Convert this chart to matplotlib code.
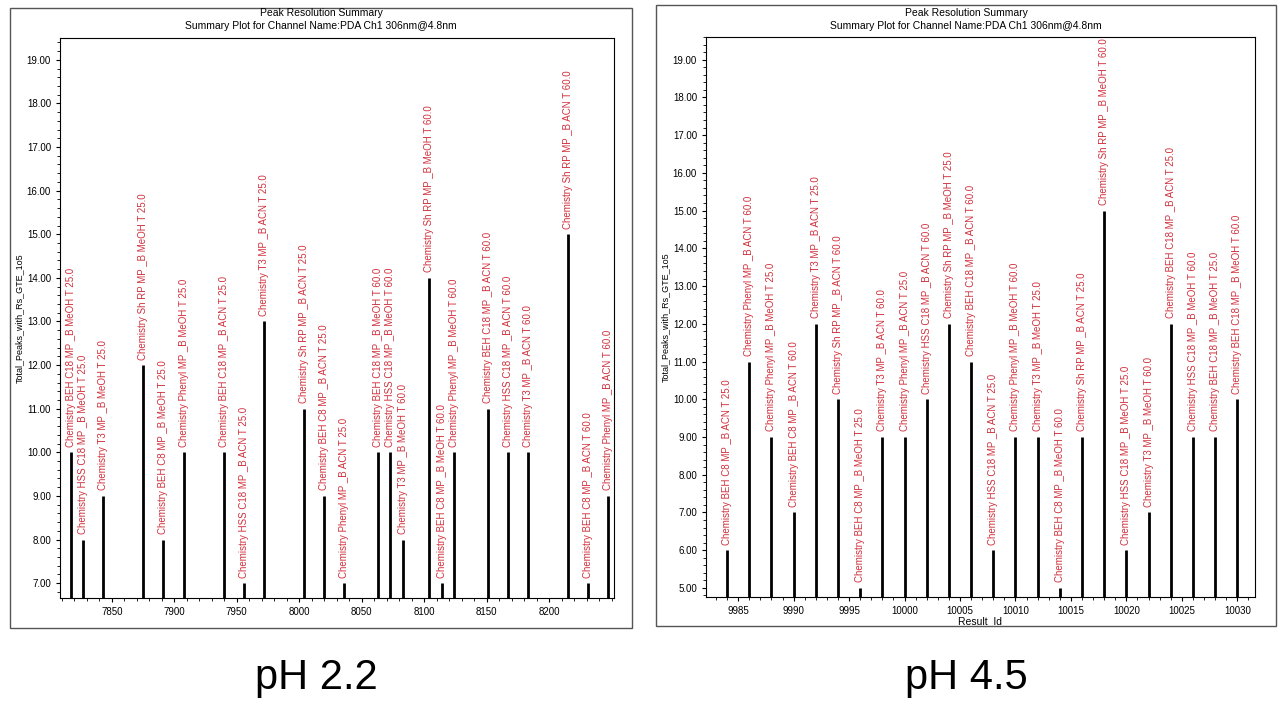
import matplotlib
matplotlib.use("Agg")
import matplotlib.pyplot as plt
from matplotlib.patches import Rectangle
from matplotlib.ticker import MultipleLocator, FormatStrFormatter, FixedLocator

plt.rcParams['font.family'] = ['Liberation Sans', 'DejaVu Sans']

left_ids = [7817, 7827, 7843, 7875, 7891, 7908, 7940, 7956, 7972, 8004, 8020, 8036,
            8063, 8073, 8083, 8104, 8114, 8124, 8151, 8167, 8183, 8215, 8231, 8247]
left_vals = [10, 8, 9, 12, 8, 10, 10, 7, 13, 11, 9, 7, 10, 10, 8, 14, 7, 10, 11, 10, 10, 15, 7, 9]
left_labels = [
    "BEH C18 MP _B MeOH T 25.0", "HSS C18 MP _B MeOH T 25.0", "T3 MP _B MeOH T 25.0",
    "Sh RP MP _B MeOH T 25.0", "BEH C8 MP _B MeOH T 25.0", "Phenyl MP _B MeOH T 25.0",
    "BEH C18 MP _B ACN T 25.0", "HSS C18 MP _B ACN T 25.0", "T3 MP _B ACN T 25.0",
    "Sh RP MP _B ACN T 25.0", "BEH C8 MP _B ACN T 25.0", "Phenyl MP _B ACN T 25.0",
    "BEH C18 MP _B MeOH T 60.0", "HSS C18 MP _B MeOH T 60.0", "T3 MP _B MeOH T 60.0",
    "Sh RP MP _B MeOH T 60.0", "BEH C8 MP _B MeOH T 60.0", "Phenyl MP _B MeOH T 60.0",
    "BEH C18 MP _B ACN T 60.0", "HSS C18 MP _B ACN T 60.0", "T3 MP _B ACN T 60.0",
    "Sh RP MP _B ACN T 60.0", "BEH C8 MP _B ACN T 60.0", "Phenyl MP _B ACN T 60.0"]
left_ticks = [7850, 7900, 7950, 8000, 8050, 8100, 8150, 8200]

right_ids = [9984, 9986, 9988, 9990, 9992, 9994, 9996, 9998, 10000, 10002, 10004, 10006,
             10008, 10010, 10012, 10014, 10016, 10018, 10020, 10022, 10024, 10026, 10028, 10030]
right_vals = [6, 11, 9, 7, 12, 10, 5, 9, 9, 10, 12, 11, 6, 9, 9, 5, 9, 15, 6, 7, 12, 9, 9, 10]
right_labels = [
    "BEH C8 MP _B ACN T 25.0", "Phenyl MP _B ACN T 60.0", "Phenyl MP _B MeOH T 25.0",
    "BEH C8 MP _B ACN T 60.0", "T3 MP _B ACN T 25.0", "Sh RP MP _B ACN T 60.0",
    "BEH C8 MP _B MeOH T 25.0", "T3 MP _B ACN T 60.0", "Phenyl MP _B ACN T 25.0",
    "HSS C18 MP _B ACN T 60.0", "Sh RP MP _B MeOH T 25.0", "BEH C18 MP _B ACN T 60.0",
    "HSS C18 MP _B ACN T 25.0", "Phenyl MP _B MeOH T 60.0", "T3 MP _B MeOH T 25.0",
    "BEH C8 MP _B MeOH T 60.0", "Sh RP MP _B ACN T 25.0", "Sh RP MP _B MeOH T 60.0",
    "HSS C18 MP _B MeOH T 25.0", "T3 MP _B MeOH T 60.0", "BEH C18 MP _B ACN T 25.0",
    "HSS C18 MP _B MeOH T 60.0", "BEH C18 MP _B MeOH T 25.0", "BEH C18 MP _B MeOH T 60.0"]
right_ticks = [9985, 9990, 9995, 10000, 10005, 10010, 10015, 10020, 10025, 10030]

W, H = 1280, 707
fig = plt.figure(figsize=(12.8, 7.07), dpi=100)

def fr(x0, y0, x1, y1):
    return [x0 / W, 1 - y1 / H, (x1 - x0) / W, (y1 - y0) / H]

for (x0, y0, x1, y1) in [(10, 8, 632, 628), (656, 5, 1276, 626)]:
    fig.patches.append(Rectangle((x0 / W, 1 - y1 / H), (x1 - x0) / W, (y1 - y0) / H,
                                 transform=fig.transFigure, fill=False, ec='#555555', lw=1))

red = '#d0303c'

def panel(rect, ids, vals, labels, xlim, ylim, ticks, xmin, title_x, xlabel):
    ax = fig.add_axes(fr(*rect))
    ax.vlines(ids, ylim[0], vals, colors='black', lw=2)
    for x, v, lab in zip(ids, vals, labels):
        ax.annotate("Chemistry " + lab, (x, v), xytext=(0, 4), textcoords='offset points',
                    rotation=90, ha='center', va='bottom', fontsize=7, color=red)
    ax.set_xlim(*xlim)
    ax.set_ylim(*ylim)
    ax.yaxis.set_major_locator(MultipleLocator(1))
    ax.yaxis.set_minor_locator(MultipleLocator(0.2))
    ax.yaxis.set_major_formatter(FormatStrFormatter('%.2f'))
    ax.xaxis.set_major_locator(FixedLocator(ticks))
    ax.xaxis.set_minor_locator(MultipleLocator(xmin))
    ax.tick_params(labelsize=7, length=3)
    ax.tick_params(which='minor', length=2)
    ax.set_ylabel("Total_Peaks_with_Rs_GTE_1o5", fontsize=6.5, labelpad=2)
    if xlabel:
        ax.set_xlabel(xlabel, fontsize=7.5, labelpad=1)
    fig.text(title_x / W, 1 - 13 / H, "Peak Resolution Summary", ha='center', va='center', fontsize=7.5)
    fig.text(title_x / W, 1 - 26 / H, "Summary Plot for Channel Name:PDA Ch1 306nm@4.8nm",
             ha='center', va='center', fontsize=7.5)
    return ax

panel((60, 38, 614, 598), left_ids, left_vals, left_labels, (7808.5, 8252), (6.66, 19.5),
      left_ticks, 10, 321, None)
panel((706, 37, 1255, 597), right_ids, right_vals, right_labels, (9982.1, 10031.6), (4.76, 19.6),
      right_ticks, 1, 966, "Result  Id")

fig.text(316 / W, 1 - 678 / H, "pH 2.2", ha='center', va='center', fontsize=30)
fig.text(966 / W, 1 - 678 / H, "pH 4.5", ha='center', va='center', fontsize=30)

fig.savefig("out.png", dpi=100)
